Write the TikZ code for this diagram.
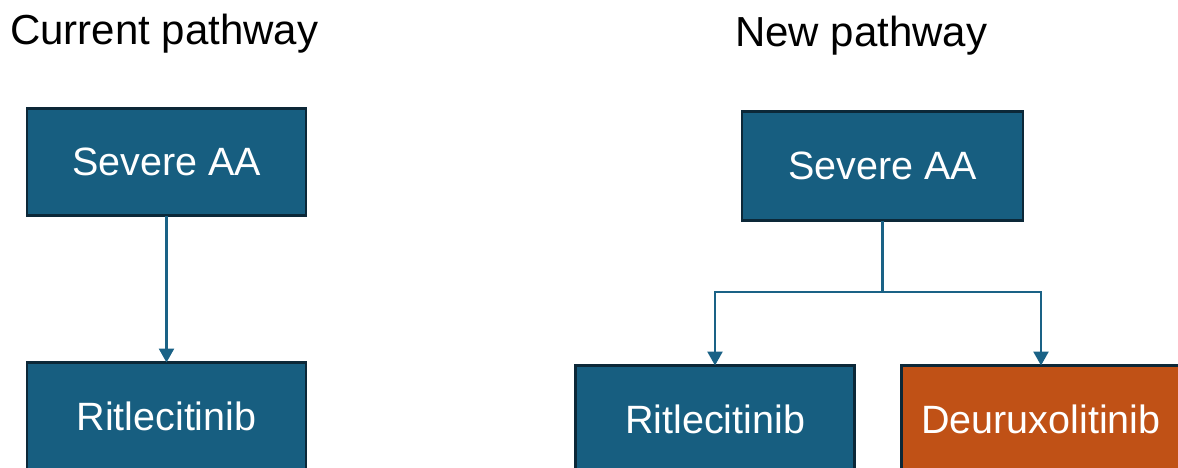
\documentclass[tikz,border=0pt]{standalone}
\usepackage{fontspec}
\setmainfont{Liberation Sans}
\usetikzlibrary{arrows.meta}
\definecolor{boxblue}{RGB}{23,94,128}
\definecolor{boxorange}{RGB}{192,81,22}
\definecolor{boxedge}{RGB}{12,40,56}
\definecolor{linkblue}{RGB}{26,98,134}
\tikzset{
  pbox/.style={draw=boxedge, line width=2.5pt, fill=boxblue, text=white,
    minimum width=279pt, minimum height=107pt, inner sep=0pt, outer sep=0pt,
    font=\fontsize{39.5}{46}\selectfont},
  obox/.style={pbox, fill=boxorange},
  ttl/.style={anchor=base west, inner sep=0pt, font=\fontsize{42}{48}\selectfont, text=black},
  link/.style={draw=linkblue, line width=2.5pt, -{Triangle[width=15pt,length=14pt]}},
  seg/.style={draw=linkblue, line width=2.5pt}
}
\begin{document}
\begin{tikzpicture}[x=1pt,y=-1pt]
\useasboundingbox (0,0) rectangle (1178,468);
\clip (0,0) rectangle (1178,468);
\fill[white] (0,0) rectangle (1178,468);
\node[ttl] (t1) at (10,45) {Current pathway};
\node[ttl] (t2) at (735,47) {New pathway};
\node[pbox] (a1) at (166.5,162) {Severe AA};
\node[pbox] (b1) at (166.5,416) {Ritlecitinib};
\node[pbox, minimum width=281pt, minimum height=109pt] (a2) at (882.5,166) {Severe AA};
\node[pbox] (b2) at (715,419) {Ritlecitinib};
\node[obox] (c2) at (1041,419) {Deuruxolitinib};
\draw[link] (a1.south) -- (b1.north);
\coordinate (j) at (a2.south |- 0,292);
\draw[seg] (a2.south) -- (j);
\draw[link] (j) -| (b2.north);
\draw[link] (j) -| (c2.north);
\end{tikzpicture}
\end{document}
